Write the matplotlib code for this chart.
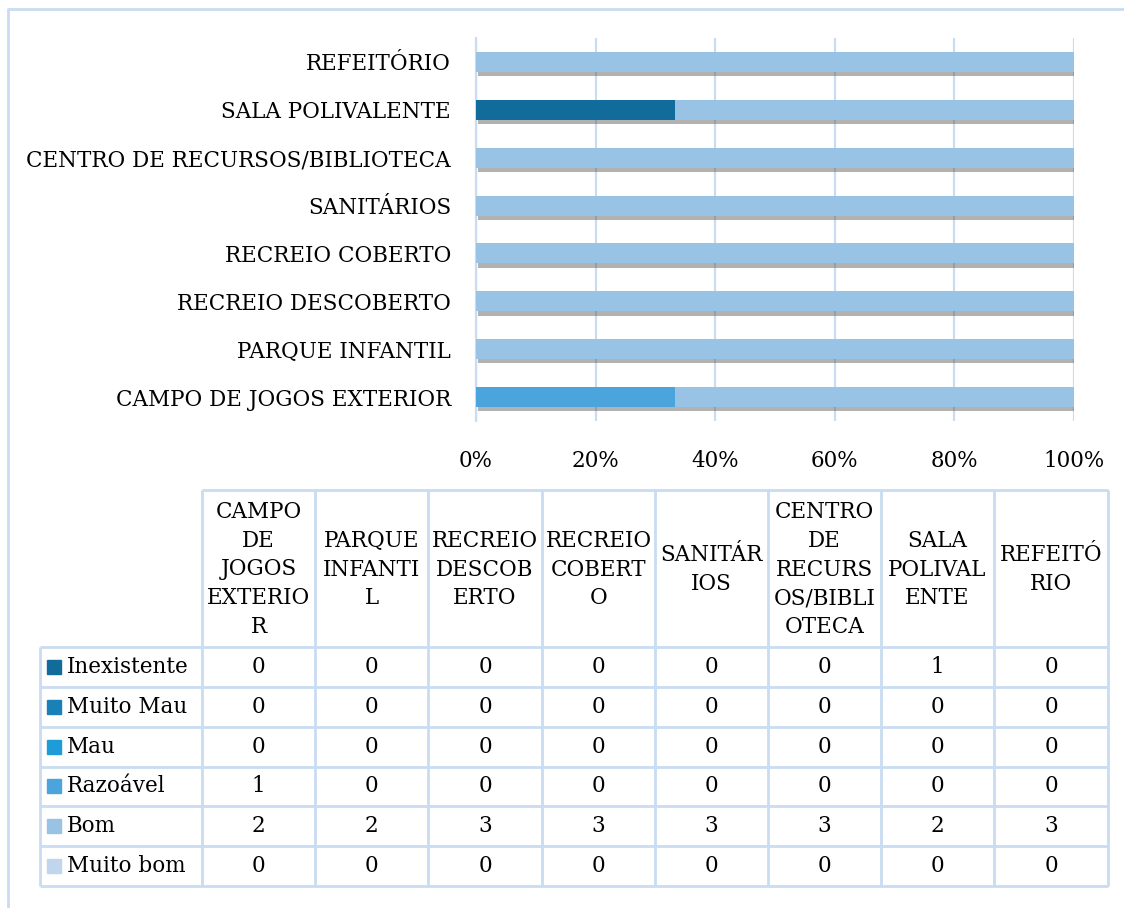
import matplotlib.pyplot as plt
import matplotlib.patheffects as pe
from matplotlib.patches import Rectangle
import numpy as np


FONT = ["DejaVu Serif"]
FONT_SIZE = 15.5

# categories, bottom to top on the chart
CATEGORIES = [
    "CAMPO DE JOGOS EXTERIOR",
    "PARQUE INFANTIL",
    "RECREIO DESCOBERTO",
    "RECREIO COBERTO",
    "SANITÁRIOS",
    "CENTRO DE RECURSOS/BIBLIOTECA",
    "SALA POLIVALENTE",
    "REFEITÓRIO",
]

# wrapped header text as shown in the data table
TABLE_HEADERS = [
    "CAMPO\nDE\nJOGOS\nEXTERIO\nR",
    "PARQUE\nINFANTI\nL",
    "RECREIO\nDESCOB\nERTO",
    "RECREIO\nCOBERT\nO",
    "SANITÁR\nIOS",
    "CENTRO\nDE\nRECURS\nOS/BIBLI\nOTECA",
    "SALA\nPOLIVAL\nENTE",
    "REFEITÓ\nRIO",
]

SERIES = [
    "Inexistente",
    "Muito Mau",
    "Mau",
    "Razoável",
    "Bom",
    "Muito bom",
]

INEXISTENTE = [0, 0, 0, 0, 0, 0, 1, 0]
MUITO_MAU = [0, 0, 0, 0, 0, 0, 0, 0]
MAU = [0, 0, 0, 0, 0, 0, 0, 0]
RAZOAVEL = [1, 0, 0, 0, 0, 0, 0, 0]
BOM = [2, 2, 3, 3, 3, 3, 2, 3]
MUITO_BOM = [0, 0, 0, 0, 0, 0, 0, 0]

COLORS = [
    "#126c9b",
    "#1a80b8",
    "#1e9cd7",
    "#4ba5dc",
    "#98c3e5",
    "#bfd6ec",
]

X_TICKS = [0, 20, 40, 60, 80, 100]

GRID_COLOR = "#c9dcf1"
W, H = 1124, 908


def main() -> None:
    plt.rcParams["font.family"] = FONT

    fig = plt.figure(
        figsize=(W / 100, H / 100),
        dpi=100,
    )

    # page-level axes in pixel units for frame and table
    page = fig.add_axes([0, 0, 1, 1])
    page.set_xlim(0, W)
    page.set_ylim(H, 0)
    page.axis("off")

    page.plot([8, 8, W + 5], [H + 5, 9, 9], color=GRID_COLOR, lw=2)

    # bar chart
    left, right = 476, 1074
    top, bottom = 38, 421
    ax = fig.add_axes(
        [left / W, 1 - bottom / H, (right - left) / W, (bottom - top) / H]
    )

    values = np.array(
        [INEXISTENTE, MUITO_MAU, MAU, RAZOAVEL, BOM, MUITO_BOM],
        dtype=float,
    )
    totals = values.sum(axis=0)
    percents = values / totals * 100

    y = np.arange(len(CATEGORIES))
    lefts = np.zeros(len(CATEGORIES))

    for name, pct, color in zip(SERIES, percents, COLORS):
        bars = ax.barh(
            y,
            pct,
            left=lefts,
            height=0.42,
            color=color,
            label=name,
            zorder=3,
        )
        for bar in bars:
            if bar.get_width() > 0:
                bar.set_path_effects(
                    [
                        pe.SimplePatchShadow(
                            offset=(1.5, -3),
                            shadow_rgbFace="#555555",
                            alpha=0.45,
                        ),
                        pe.Normal(),
                    ]
                )
        lefts += pct

    ax.set_xlim(0, 100)
    ax.set_ylim(-0.5, len(CATEGORIES) - 0.5)
    ax.set_xticks(X_TICKS)
    ax.set_xticklabels([f"{t}%" for t in X_TICKS])
    ax.set_yticks(y)
    ax.set_yticklabels(CATEGORIES)
    ax.tick_params(
        axis="both",
        length=0,
        labelsize=FONT_SIZE,
    )
    ax.tick_params(axis="x", pad=21)
    ax.tick_params(axis="y", pad=18)
    ax.grid(axis="x", color=GRID_COLOR, linewidth=1.6, zorder=0)
    for side in ["top", "right", "bottom"]:
        ax.spines[side].set_visible(False)
    ax.spines["left"].set_color(GRID_COLOR)
    ax.spines["left"].set_linewidth(1.6)
    ax.patch.set_alpha(0)

    # data table
    col_edges = [40, 202, 315, 428, 542, 655, 768, 881, 994, 1108]
    header_top, header_bottom = 490, 647
    row_h = (886 - header_bottom) / len(SERIES)
    row_edges = [header_bottom + i * row_h for i in range(len(SERIES) + 1)]

    line_kw = dict(color=GRID_COLOR, lw=2, solid_capstyle="butt")
    for xe in col_edges[1:]:
        page.plot([xe, xe], [header_top, row_edges[-1]], **line_kw)
    page.plot([col_edges[0], col_edges[0]], [header_bottom, row_edges[-1]], **line_kw)
    page.plot([col_edges[1], col_edges[-1]], [header_top, header_top], **line_kw)
    for ye in row_edges:
        page.plot([col_edges[0], col_edges[-1]], [ye, ye], **line_kw)

    for j, header in enumerate(TABLE_HEADERS):
        cx = (col_edges[j + 1] + col_edges[j + 2]) / 2
        page.text(
            cx,
            (header_top + header_bottom) / 2 + 1,
            header,
            ha="center",
            va="center",
            fontsize=FONT_SIZE,
            linespacing=1.4,
            multialignment="center",
        )

    for i, (name, color) in enumerate(zip(SERIES, COLORS)):
        cy = (row_edges[i] + row_edges[i + 1]) / 2
        page.add_patch(
            Rectangle((47, cy - 7), 14, 14, color=color)
        )
        page.text(
            67,
            cy,
            name,
            ha="left",
            va="center",
            fontsize=FONT_SIZE,
        )
        for j, value in enumerate(values[i]):
            cx = (col_edges[j + 1] + col_edges[j + 2]) / 2
            page.text(
                cx,
                cy,
                f"{int(value)}",
                ha="center",
                va="center",
                fontsize=FONT_SIZE,
            )

    fig.savefig("out.png", dpi=100)
    plt.close(fig)


if __name__ == "__main__":
    main()
